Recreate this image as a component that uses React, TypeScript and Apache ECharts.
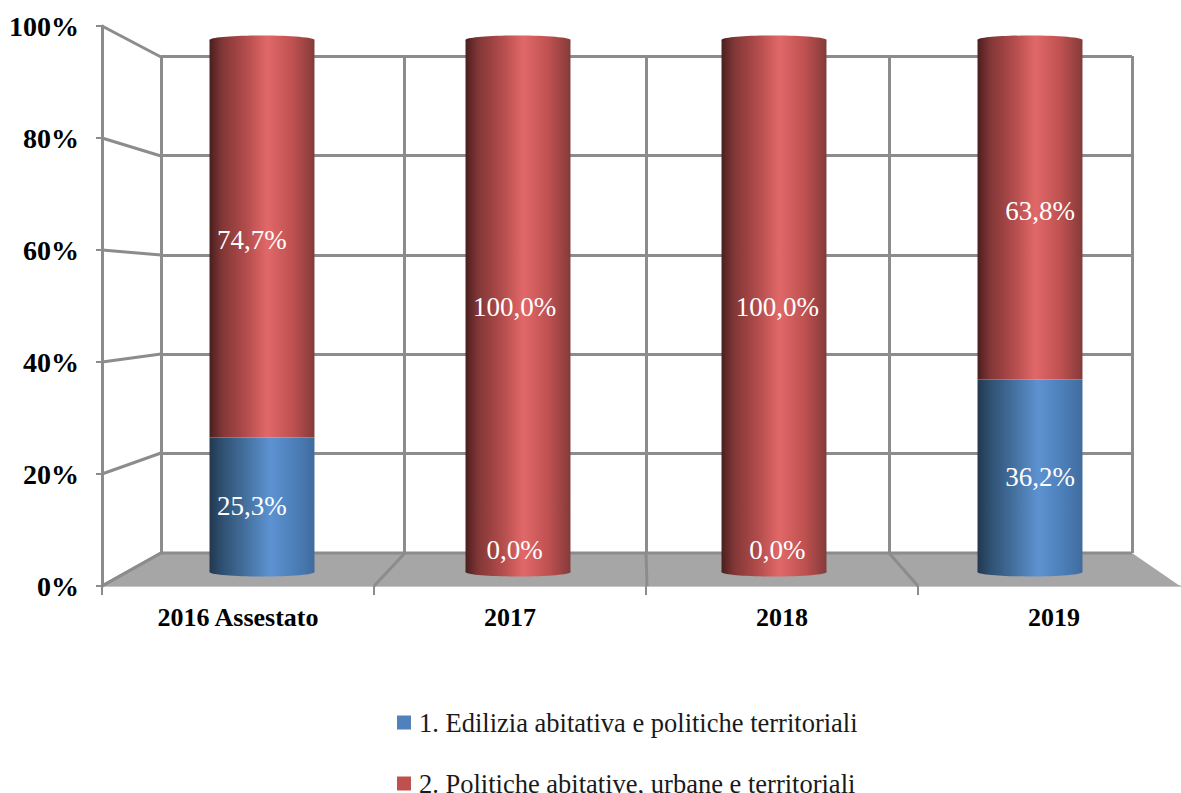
import React, { useEffect, useRef } from "react";
import * as echarts from "echarts";

const categories = ["2016 Assestato", "2017", "2018", "2019"];
const edilizia = [25.3, 0, 0, 36.2];
const politiche = [74.7, 100, 100, 63.8];
const seriesNames = [
  "1. Edilizia abitativa e politiche territoriali",
  "2. Politiche abitative, urbane e territoriali",
];
const FONT = '"Liberation Serif", "Times New Roman", serif';
const GRID_GRAY = "#8c8c8c";

const blueStops = [
  { offset: 0, color: "#22384f" },
  { offset: 0.12, color: "#2f5072" },
  { offset: 0.35, color: "#44719f" },
  { offset: 0.58, color: "#5d92d2" },
  { offset: 0.8, color: "#4d80ba" },
  { offset: 1, color: "#3f6c9e" },
];
const redStops = [
  { offset: 0, color: "#4a1f1f" },
  { offset: 0.12, color: "#823636" },
  { offset: 0.35, color: "#b34c4c" },
  { offset: 0.55, color: "#e26868" },
  { offset: 0.8, color: "#bd5050" },
  { offset: 1, color: "#853a3a" },
];

const fmt = (v: number) => v.toFixed(1).replace(".", ",") + "%";

function cylinder(stops: any[], isBase: boolean, isTop: boolean) {
  return (params: any, api: any) => {
    const idx = api.value(0);
    const start = api.value(1);
    const end = api.value(2);
    const val = api.value(3);
    const [cx, y0] = api.coord([idx, start]);
    const [, y1] = api.coord([idx, end]);
    const w = api.size([1, 0])[0] * 0.41;
    const x = cx - w / 2;
    const fill = { type: "linear", x: 0, y: 0, x2: 1, y2: 0, colorStops: stops };
    const children: any[] = [];
    if (val > 0) {
      children.push({
        type: "rect",
        shape: { x, y: y1, width: w, height: y0 - y1 },
        style: { fill },
      });
      if (isBase || start === 0) {
        children.push({
          type: "ellipse",
          shape: { cx, cy: y0, rx: w / 2, ry: 4.5 },
          style: { fill },
        });
      }
      if (isTop) {
        children.push({
          type: "ellipse",
          shape: { cx, cy: y1, rx: w / 2, ry: 4.5 },
          style: { fill },
        });
      }
    }
    const labelX = cx + (idx - 1.5) * 6.7;
    const labelY = Math.min((y0 + y1) / 2 + 1, 550);
    children.push({
      type: "text",
      x: labelX,
      y: labelY,
      z2: 10,
      style: {
        text: fmt(val),
        fill: "#ffffff",
        font: `27px ${FONT}`,
        align: "center",
        verticalAlign: "middle",
      },
    });
    return { type: "group", children };
  };
}

const wallLine = (points: number[][]) => ({
  type: "polyline",
  shape: { points },
  style: { stroke: GRID_GRAY, lineWidth: 3, fill: "none" },
});

export default function App() {
  const ref = useRef<HTMLDivElement>(null);
  useEffect(() => {
    document.body.style.margin = "0";
    const chart = echarts.init(ref.current!, undefined, { renderer: "svg" });
    const wallFront = [26, 138, 250, 362, 474, 586];
    const wallBack = [57, 156, 255, 354, 453, 553];
    const floorFront = [102, 374, 647, 918];
    const floorBack = [161, 405, 646, 889];
    chart.setOption({
      animation: false,
      backgroundColor: "#ffffff",
      grid: [
        { left: 161, width: 971, top: 56, height: 497, outerBoundsMode: "none" },
        { left: 102, width: 1088, top: 26, height: 560, outerBoundsMode: "none" },
        { left: 134, width: 1024, top: 40, height: 532, outerBoundsMode: "none" },
      ],
      xAxis: [
        {
          gridIndex: 0,
          type: "category",
          data: categories,
          axisLine: { show: false },
          axisTick: { show: false },
          axisLabel: { show: false },
          splitLine: { show: true, lineStyle: { color: GRID_GRAY, width: 3 } },
        },
        {
          gridIndex: 1,
          type: "category",
          data: categories,
          axisLine: { show: true, lineStyle: { color: "#c4c4c4", width: 2 } },
          axisTick: { show: true, length: 9, lineStyle: { color: GRID_GRAY, width: 2 } },
          axisLabel: {
            margin: 18,
            color: "#000",
            fontFamily: FONT,
            fontWeight: "bold",
            fontSize: 26,
          },
        },
        {
          gridIndex: 2,
          type: "category",
          data: categories,
          axisLine: { show: false },
          axisTick: { show: false },
          axisLabel: { show: false },
        },
      ],
      yAxis: [
        {
          gridIndex: 0,
          type: "value",
          min: 0,
          max: 100,
          interval: 20,
          axisLine: { show: false },
          axisTick: { show: false },
          axisLabel: { show: false },
          splitLine: { show: true, lineStyle: { color: GRID_GRAY, width: 3 } },
        },
        {
          gridIndex: 1,
          type: "value",
          min: 0,
          max: 100,
          interval: 20,
          axisLine: { show: true, lineStyle: { color: GRID_GRAY, width: 3 } },
          axisTick: { show: true, length: 6, lineStyle: { color: GRID_GRAY, width: 2 } },
          splitLine: { show: false },
          axisLabel: {
            margin: 23,
            formatter: "{value}%",
            color: "#000",
            fontFamily: FONT,
            fontWeight: "bold",
            fontSize: 28,
          },
        },
        {
          gridIndex: 2,
          type: "value",
          min: 0,
          max: 100,
          show: false,
        },
      ],
      legend: {
        orient: "vertical",
        left: 392,
        top: 704,
        height: 140,
        itemWidth: 14,
        itemHeight: 14,
        itemGap: 34,
        icon: "rect",
        data: seriesNames,
        selectedMode: false,
        textStyle: { color: "#1a1a1a", fontFamily: FONT, fontSize: 26.5, padding: [0, 0, 0, 3] },
      },
      graphic: {
        elements: [
          {
            type: "polygon",
            z: 1,
            shape: {
              points: [
                [102, 586],
                [161, 553],
                [1132, 553],
                [1180, 586],
              ],
            },
            style: { fill: "#a6a6a6" },
          },
          ...floorFront.map((fx, i) => ({
            ...wallLine([
              [fx, 586],
              [floorBack[i], 553],
            ]),
            z: 1,
          })),
          ...wallFront.map((fy, i) => ({
            ...wallLine([
              [102, fy],
              [161, wallBack[i]],
            ]),
            z: 1,
          })),
          { ...wallLine([[161, 553], [1132, 553]]), z: 1 },
        ],
      },
      series: [
        {
          type: "custom",
          name: seriesNames[1],
          xAxisIndex: 2,
          yAxisIndex: 2,
          z: 5,
          clip: false,
          silent: true,
          itemStyle: { color: "#c0504d" },
          encode: { x: 0, y: [1, 2] },
          renderItem: cylinder(redStops, false, true),
          data: politiche.map((v, i) => [i, edilizia[i], edilizia[i] + v, v]),
        },
        {
          type: "custom",
          name: seriesNames[0],
          xAxisIndex: 2,
          yAxisIndex: 2,
          z: 6,
          clip: false,
          silent: true,
          itemStyle: { color: "#4f81bd" },
          encode: { x: 0, y: [1, 2] },
          renderItem: cylinder(blueStops, true, false),
          data: edilizia.map((v, i) => [i, 0, v, v]),
        },
      ],
    });
    return () => chart.dispose();
  }, []);
  return <div ref={ref} style={{ width: 1181, height: 793 }} />;
}
